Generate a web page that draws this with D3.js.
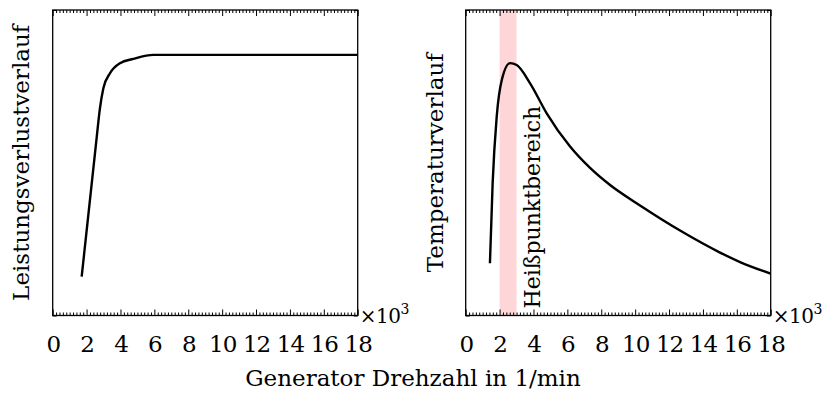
<!DOCTYPE html>
<html>
<head>
<meta charset="utf-8">
<script src="https://cdn.jsdelivr.net/npm/d3@7"></script>
<style>
  body { margin: 0; background: #fff; }
  svg text { font-family: "DejaVu Serif", serif; fill: #000; }
</style>
</head>
<body>
<svg id="chart" width="829" height="402"></svg>
<script>
// x ticks (x10^3 1/min)
var xTicks = [0, 2, 4, 6, 8, 10, 12, 14, 16, 18];
var xDomain = [0, 18];

// left panel: Leistungsverlustverlauf
var powerX = [1.71, 2.6, 2.78, 2.99, 3.38, 3.97, 4.76, 5.94, 12, 18];
var powerY = [0.127, 0.585, 0.675, 0.744, 0.793, 0.826, 0.840, 0.853, 0.853, 0.853];

// right panel: Temperaturverlauf
var tempX = [1.43, 1.59, 1.83, 2.13, 2.62, 3.01, 3.80, 4.78, 6.16, 7.34, 8.52, 10.29, 12.65, 15.01, 16.19, 18];
var tempY = [0.171, 0.433, 0.651, 0.771, 0.826, 0.820, 0.760, 0.662, 0.553, 0.483, 0.427, 0.360, 0.278, 0.206, 0.175, 0.137];

// hot spot band
var hotspot = [2, 3];

var labelLeft = "Leistungsverlustverlauf",
    labelRight = "Temperaturverlauf",
    labelBand = "Heißpunktbereich",
    labelX = "Generator Drehzahl in 1/min";

var svg = d3.select("#chart");
var width = 305, height = 305.5, fs = 23;

var x = d3.scaleLinear().domain(xDomain).range([0, width]);
var y = d3.scaleLinear().domain([0, 1]).range([height, 0]);
var minor = d3.range(0, 18.0001, 0.2).filter(function(d) { return Math.abs(d / 2 - Math.round(d / 2)) > 1e-6; });

function frame(g) {
  // minor ticks bottom / top
  g.append("g").attr("transform", "translate(0," + height + ")")
    .call(d3.axisBottom(x).tickValues(minor).tickSizeInner(-3).tickSizeOuter(0).tickFormat(""));
  g.append("g")
    .call(d3.axisTop(x).tickValues(minor).tickSizeInner(-3).tickSizeOuter(0).tickFormat(""));
  // major ticks
  g.append("g").attr("class", "xaxis").attr("transform", "translate(0," + height + ")")
    .call(d3.axisBottom(x).tickValues(xTicks).tickSizeInner(-6).tickSizeOuter(0).tickPadding(20).tickFormat(d3.format("d")));
  g.append("g")
    .call(d3.axisTop(x).tickValues(xTicks).tickSizeInner(-6).tickSizeOuter(0).tickFormat(""));
  // y end ticks
  g.append("g")
    .call(d3.axisLeft(y).tickValues([0, 1]).tickSizeInner(-4).tickSizeOuter(0).tickFormat(""));
  g.append("g").attr("transform", "translate(" + width + ",0)")
    .call(d3.axisRight(y).tickValues([0, 1]).tickSizeInner(-4).tickSizeOuter(0).tickFormat(""));
  g.selectAll(".domain").remove();
  g.selectAll(".tick line").attr("stroke", "#000").attr("stroke-width", 1);
  g.selectAll(".xaxis text").attr("font-size", null).attr("font-family", null)
    .style("font-size", fs + "px").style("letter-spacing", "-1px");
  g.append("rect").attr("width", width).attr("height", height)
    .attr("fill", "none").attr("stroke", "#000").attr("stroke-width", 1.3);

  // x10^3
  var t = g.append("text").attr("x", width + 2).attr("y", height + 7)
    .style("font-size", "20px").style("letter-spacing", "-0.5px");
  t.append("tspan").text("×10");
  t.append("tspan").attr("dy", -9).style("font-size", "14px").text("3");
}

function curve(g, xs, ys) {
  var pts = xs.map(function(d, i) { return [d, ys[i]]; });
  g.append("path").datum(pts)
    .attr("fill", "none").attr("stroke", "#000").attr("stroke-width", 2.4)
    .attr("stroke-linejoin", "round")
    .attr("d", d3.line().x(function(d) { return x(d[0]); }).y(function(d) { return y(d[1]); })
      .curve(d3.curveMonotoneX));
}

function ylabel(g, text, xpos) {
  g.append("text")
    .attr("transform", "translate(" + xpos + "," + (height / 2) + ") rotate(-90)")
    .attr("text-anchor", "middle")
    .style("font-size", fs + "px")
    .text(text);
}

// left panel
var g1 = svg.append("g").attr("transform", "translate(52.7,10)");
curve(g1, powerX, powerY);
frame(g1);
ylabel(g1, labelLeft, -24);

// right panel
var g2 = svg.append("g").attr("transform", "translate(465.7,10)");
g2.append("rect")
  .attr("x", x(hotspot[0])).attr("y", 0)
  .attr("width", x(hotspot[1]) - x(hotspot[0])).attr("height", height)
  .attr("fill", "#ffd6d8");
curve(g2, tempX, tempY);
frame(g2);
ylabel(g2, labelRight, -23);
g2.append("text")
  .attr("transform", "translate(" + (x(hotspot[1]) + 23) + "," + (height - 7) + ") rotate(-90)")
  .attr("text-anchor", "start")
  .style("font-size", "22px")
  .text(labelBand);

// x axis title
svg.append("text")
  .attr("x", 413).attr("y", 386)
  .attr("text-anchor", "middle")
  .style("font-size", fs + "px")
  .text(labelX);
</script>
</body>
</html>
